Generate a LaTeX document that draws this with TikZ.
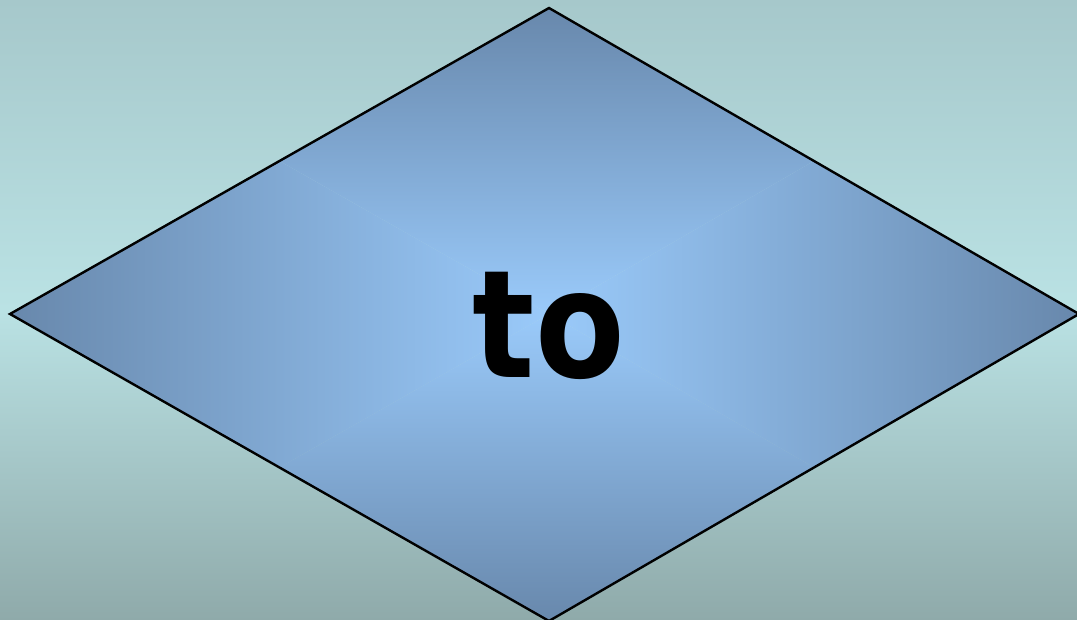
\documentclass[tikz,border=0pt]{standalone}
\usepackage{fontspec}
\setmainfont{DejaVu Sans}
\definecolor{bgtop}{RGB}{166,200,203}
\definecolor{bgmid}{RGB}{186,226,228}
\definecolor{bgbot}{RGB}{143,170,170}
\definecolor{dedge}{RGB}{104,136,172}
\definecolor{dcenter}{RGB}{154,202,250}
\tikzset{outline/.style={draw=black,line width=2.4pt,line join=miter},
  lbl/.style={font=\bfseries\fontsize{150}{150}\selectfont,inner sep=0pt,xscale=0.87}}
\begin{document}
\begin{tikzpicture}[x=1pt,y=1pt]
\useasboundingbox (0,0) rectangle (1077,620);
\shade[top color=bgtop,bottom color=bgmid] (0,310) rectangle (1077,620);
\shade[top color=bgmid,bottom color=bgbot] (0,0) rectangle (1077,310.5);
\coordinate (L) at (10,306);
\coordinate (T) at (549,612);
\coordinate (R) at (1079,306);
\coordinate (B) at (549,-1);
\coordinate (C) at (549,306);
\begin{scope}
\clip (L)--(T)--(R)--(B)--cycle;
\shade[left color=dedge,right color=dcenter] (10,-1)--(10,612)--(C)--cycle;
\shade[left color=dcenter,right color=dedge] (1079,-1)--(1079,612)--(C)--cycle;
\shade[top color=dedge,bottom color=dcenter] (10,612)--(1079,612)--(C)--cycle;
\shade[top color=dcenter,bottom color=dedge] (10,-1)--(1079,-1)--(C)--cycle;
\end{scope}
\draw[outline] (L)--(T)--(R)--(B)--cycle;
\node[lbl,anchor=base] (word) at (549,242) {to};
\end{tikzpicture}
\end{document}
